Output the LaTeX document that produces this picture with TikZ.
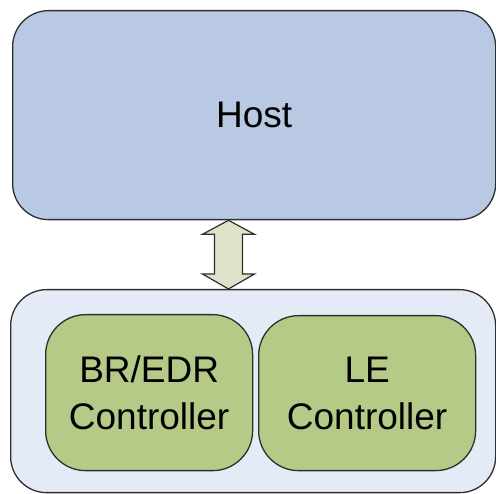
\documentclass[tikz,border=0pt]{standalone}
\usepackage{fontspec}
\setmainfont{Liberation Sans}
\usetikzlibrary{calc}

\definecolor{hostfill}{HTML}{B9C9E3}
\definecolor{sysfill}{HTML}{E5EBF6}
\definecolor{ctrlfill}{HTML}{B6CA87}
\definecolor{linkfill}{HTML}{DDE3C9}
\definecolor{edge}{HTML}{2E2E2E}

\tikzset{
  box/.style={draw=edge, line width=1.3pt, rounded corners=36pt, inner sep=0pt,
    anchor=north west, align=center,
    font=\fontsize{37}{47}\selectfont},
  linkarrow/.style={draw=edge, line width=1.2pt, fill=linkfill, line join=miter},
}

\begin{document}
\begin{tikzpicture}[x=1pt, y=-1pt]
  \useasboundingbox (0,0) rectangle (496,494);

  % host block
  \node[box, fill=hostfill, minimum width=483pt, minimum height=209pt] (host) at (12,10) {Host};

  % controller block with its two parts
  \node[box, fill=sysfill, minimum width=485pt, minimum height=203pt] (sys) at (10,289) {};
  \node[box, fill=ctrlfill, rounded corners=40pt, minimum width=207pt, minimum height=156pt]
    (bredr) at (45,314) {BR/EDR\\Controller};
  \node[box, fill=ctrlfill, rounded corners=40pt, minimum width=217pt, minimum height=155pt]
    (le) at (258,315) {LE\\Controller};

  % two-way link between host and controllers
  \coordinate (t) at ($(host.south west)!0.447!(host.south east)$);
  \coordinate (b) at (t |- sys.north);
  \draw[linkarrow] (t) -- ++(26,14) -- ++(-12,0) -- ($(b)+(14,-15)$) -- ++(12,0)
    -- (b) -- ++(-26,-15) -- ++(12,0) -- ($(t)+(-14,14)$) -- ++(-12,0) -- cycle;
\end{tikzpicture}
\end{document}
